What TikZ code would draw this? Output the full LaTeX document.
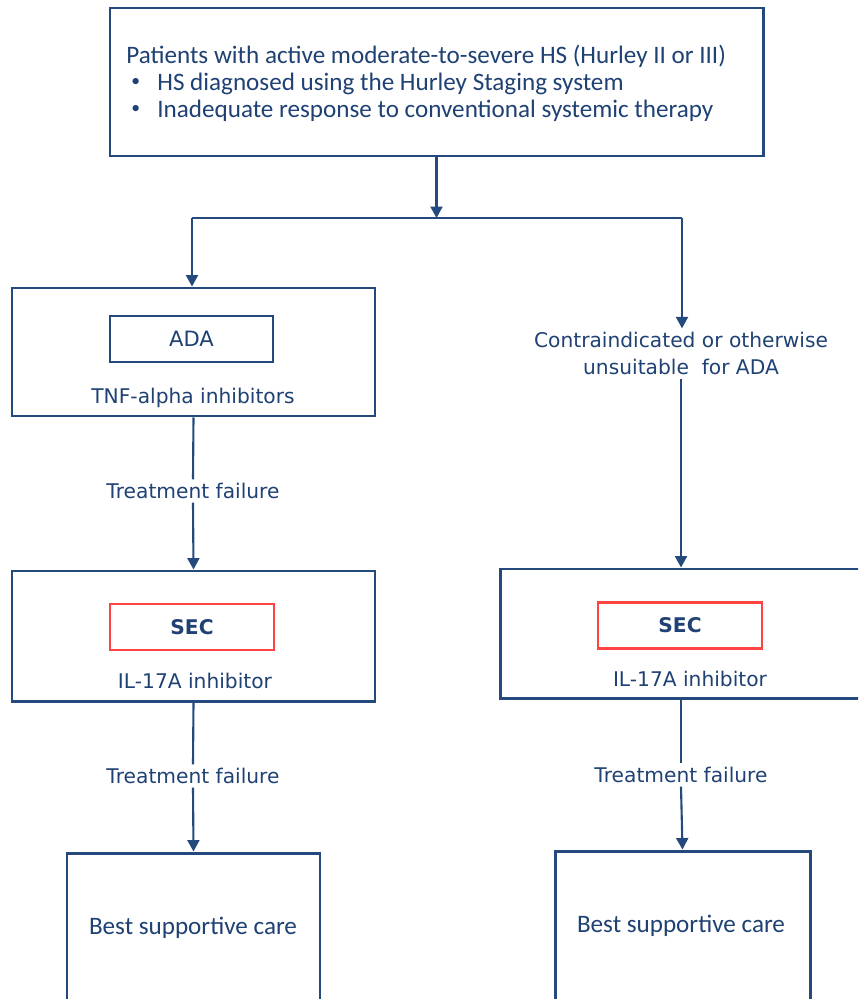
\documentclass[tikz,border=0pt]{standalone}
\usepackage{fontspec}
\setmainfont{Carlito}
\newfontfamily\tah{DejaVu Sans}
\usetikzlibrary{arrows.meta}
\definecolor{navy}{HTML}{23497D}
\definecolor{txt}{HTML}{1F4173}
\definecolor{redb}{HTML}{FF4444}
\tikzset{
  box/.style={draw=navy, line width=1.7pt, inner sep=0pt, fill=white},
  inbox/.style={draw=navy, line width=1.5pt, inner sep=0pt, minimum width=3.26cm, minimum height=0.92cm, text=txt, font=\tah\fontsize{12}{13}\selectfont},
  secbox/.style={draw=redb, line width=1.5pt, inner sep=0pt, minimum width=3.28cm, minimum height=0.92cm, text=txt, font=\tah\bfseries\fontsize{11.5}{13}\selectfont},
  tlabel/.style={text=txt, font=\tah\fontsize{11.5}{15.3}\selectfont, inner sep=2pt, align=center},
  clabel/.style={text=txt, font=\fontsize{14.3}{15.3}\selectfont, inner sep=0pt},
  line/.style={draw=navy, line width=1.2pt},
  conn/.style={line, -{Triangle[width=6.8pt,length=6.5pt]}}
}
\newcommand{\smbul}{\hspace{0.1cm}\makebox[0.52cm][l]{\raisebox{0.3ex}{\scalebox{0.7}{\textbullet}}}}
\begin{document}
\begin{tikzpicture}
\useasboundingbox (0,0) rectangle (17.16,-19.98);
\clip (0,0) rectangle (17.16,-19.98);
% top box
\node[box, minimum width=13.06cm, minimum height=2.96cm] (top) at (8.73,-1.64) {};
\node[clabel, anchor=north west] (toptxt) at (2.52,-0.89) {%
\begin{tabular}{@{}l@{}}
Patients with active moderate-to-severe HS (Hurley II or III)\\
\smbul HS diagnosed using the Hurley Staging system\\
\smbul Inadequate response to conventional systemic therapy
\end{tabular}};
\coordinate (j) at (8.73,-4.36);
\coordinate (jl) at (3.84,-4.36);
\coordinate (jr) at (13.64,-4.36);
% left column
\node[box, minimum width=7.26cm, minimum height=2.56cm] (b1) at (3.87,-7.04) {};
\node[inbox] (ada) at (3.83,-6.78) {ADA};
\node[tlabel] (tnf) at (3.86,-7.96) {TNF-alpha inhibitors};
\node[tlabel] (tf1) at (3.86,-9.82) {Treatment failure};
\node[box, minimum width=7.26cm, minimum height=2.6cm] (b2) at (3.87,-12.72) {};
\node[secbox] (sec1) at (3.84,-12.54) {SEC};
\node[tlabel] (il1) at (3.9,-13.62) {IL-17A inhibitor};
\node[tlabel] (tf2) at (3.86,-15.52) {Treatment failure};
\node[box, minimum width=5.06cm, minimum height=4cm] (b3) at (3.87,-19.06) {};
\node[clabel] (bsc1) at (3.86,-18.56) {Best supportive care};
% right column
\node[tlabel] (contra) at (13.62,-7.07) {Contraindicated or otherwise\\unsuitable~ for ADA};
\node[box, minimum width=7.24cm, minimum height=2.58cm] (r2) at (13.62,-12.67) {};
\node[secbox] (sec2) at (13.6,-12.51) {SEC};
\node[tlabel] (il2) at (13.8,-13.58) {IL-17A inhibitor};
\node[tlabel] (tf3) at (13.62,-15.5) {Treatment failure};
\node[box, minimum width=5.1cm, minimum height=4cm] (r3) at (13.65,-19.02) {};
\node[clabel] (bsc2) at (13.62,-18.52) {Best supportive care};
% connectors
\draw[conn] (top.south) -- (j);
\draw[line] (jl) -- (jr);
\draw[conn] (jl) -- (jl |- b1.north);
\draw[conn] (jr) -- (jr |- contra.north);
\draw[line] (b1.south) -- (tf1.north);
\draw[conn] (tf1.south) -- (b2.north);
\draw[line] (b2.south) -- (tf2.north);
\draw[conn] (tf2.south) -- (b3.north);
\draw[line] (contra.south) -- (contra.south |- tf1.north);
\draw[conn] (contra.south |- tf1.north) -- (contra.south |- r2.north);
\draw[line] (r2.south) -- (tf3.north);
\draw[conn] (tf3.south) -- (r3.north);
\end{tikzpicture}
\end{document}
